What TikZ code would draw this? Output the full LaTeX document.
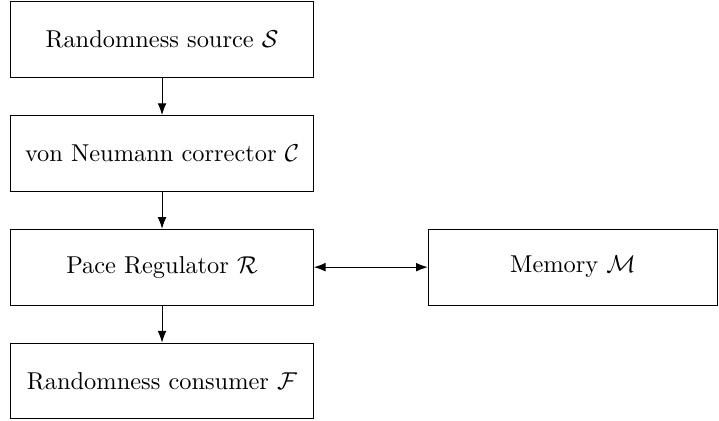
\documentclass[tikz,border=0pt]{standalone}
\usepackage{amsmath}
\usepackage{tikz}
\usetikzlibrary{positioning,arrows.meta}

\begin{document}
\begin{tikzpicture}[
      node distance=0.535cm,
      block/.style={rectangle, draw, fill=white, minimum width=4.36cm, minimum height=1.09cm, text centered, line width=0.4pt},
      memblock/.style={rectangle, draw, fill=white, minimum width=4.17cm, minimum height=1.09cm, text centered, line width=0.4pt},
      arrow/.style={-Latex, line width=0.4pt},
      biarrow/.style={Latex-Latex, line width=0.4pt}
    ]
    \useasboundingbox (0,0) rectangle (10.357,6.05);

    \node[block] (source) at (2.334,5.48) {Randomness source $\mathcal{S}$};
    \node[block, below=of source] (corrector) {von Neumann corrector $\mathcal{C}$};
    \node[block, below=of corrector] (regulator) {Pace Regulator $\mathcal{R}$};
    \node[block, below=of regulator] (consumer) {Randomness consumer $\mathcal{F}$};

    \node[memblock, right=1.64cm of regulator] (memory) {Memory $\mathcal{M}$};

    \draw[arrow] (source.south) -- (corrector.north);
    \draw[arrow] (corrector.south) -- (regulator.north);
    \draw[arrow] (regulator.south) -- (consumer.north);
    \draw[biarrow] (regulator.east) -- (memory.west);
    \end{tikzpicture}
\end{document}
